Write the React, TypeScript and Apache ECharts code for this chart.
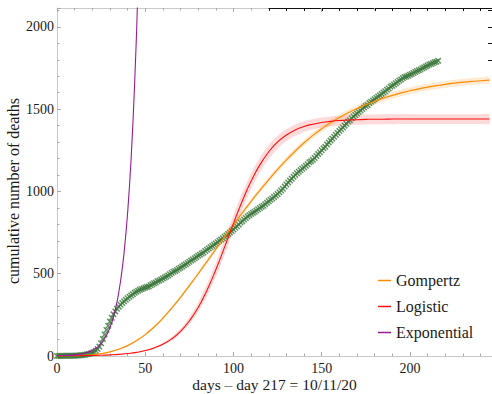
import { useEffect, useRef } from "react";
import * as echarts from "echarts";

// Cumulative deaths, one value per day starting at day 217 (10/11/20)
const deaths = [
  0, 0, 0, 1, 1, 1, 1, 2, 2, 2,
  2, 3, 3, 4, 5, 6, 8, 10, 12, 15,
  19, 25, 32, 42, 57, 78, 104, 131, 158, 184,
  209, 232, 253, 271, 287, 300, 311, 322, 332, 342,
  351, 360, 368, 376, 384, 391, 397, 402, 407, 411,
  416, 420, 423, 430, 436, 442, 447, 455, 459, 465,
  471, 477, 483, 490, 497, 504, 512, 517, 523, 530,
  537, 544, 551, 558, 565, 573, 580, 587, 594, 601,
  609, 616, 623, 629, 638, 646, 653, 661, 669, 676,
  684, 692, 700, 708, 716, 725, 733, 742, 751, 760,
  769, 779, 789, 799, 811, 819, 829, 839, 848, 856,
  863, 870, 877, 884, 892, 899, 907, 913, 923, 932,
  940, 949, 957, 966, 975, 985, 995, 1006, 1016, 1030,
  1042, 1054, 1066, 1078, 1089, 1100, 1111, 1120, 1129, 1138,
  1147, 1156, 1165, 1177, 1183, 1192, 1203, 1215, 1227, 1238,
  1250, 1262, 1271, 1286, 1298, 1309, 1321, 1333, 1345, 1356,
  1367, 1378, 1389, 1400, 1411, 1425, 1433, 1445, 1456, 1465,
  1474, 1483, 1492, 1501, 1510, 1519, 1526, 1537, 1545, 1553,
  1561, 1569, 1577, 1585, 1593, 1601, 1609, 1618, 1626, 1637,
  1642, 1650, 1658, 1666, 1674, 1681, 1689, 1696, 1699, 1704,
  1709, 1714, 1720, 1726, 1732, 1737, 1741, 1749, 1754, 1760,
  1765, 1772, 1775, 1780, 1785, 1789, 1794,
];

// Fitted model curves, sampled every 5 days
const fitDays = [
  0, 5, 10, 15, 20, 25, 30, 35, 40, 45,
  50, 55, 60, 65, 70, 75, 80, 85, 90, 95,
  100, 105, 110, 115, 120, 125, 130, 135, 140, 145,
  150, 155, 160, 165, 170, 175, 180, 185, 190, 195,
  200, 205, 210, 215, 220, 225, 230, 235, 240, 245,
];

const gompertz = [
  0.2, 0.7, 1.6, 3.7, 7.6, 14, 25, 41, 63, 93,
  130, 176, 230, 291, 357, 428, 500, 574, 650, 725,
  798, 870, 940, 1007, 1072, 1134, 1192, 1246, 1296, 1341,
  1381, 1417, 1449, 1478, 1504, 1527, 1548, 1567, 1584, 1599,
  1612, 1624, 1634, 1643, 1651, 1658, 1664, 1669, 1673, 1677,
];

// half-width of the Gompertz confidence band
const gompertzSpread = [
  0, 0, 0.3, 0.7, 1.2, 2, 3, 4, 5, 6,
  7, 8, 9, 10, 11, 12, 13, 14, 14, 15,
  15, 16, 16, 17, 17, 17, 18, 18, 18, 19,
  19, 19, 19, 20, 20, 20, 20, 20, 21, 21,
  21, 21, 21, 21, 21, 21, 21, 21, 21, 21,
];

const logistic = [
  0.6, 0.9, 1.4, 2.1, 3.1, 4.6, 6.9, 10, 15, 22,
  33, 49, 72, 104, 150, 213, 295, 400, 524, 663,
  806, 942, 1063, 1163, 1241, 1301, 1343, 1374, 1395, 1409,
  1419, 1426, 1431, 1434, 1436, 1438, 1439, 1439, 1440, 1440,
  1440, 1440, 1440, 1440, 1440, 1440, 1440, 1440, 1440, 1440,
];

const logisticUpper = [
  0.8, 1.1, 1.6, 2.4, 3.6, 5.3, 7.9, 11.6, 17, 25,
  38, 55, 81, 117, 167, 236, 325, 437, 567, 710,
  857, 993, 1111, 1208, 1283, 1338, 1379, 1407, 1426, 1440,
  1449, 1456, 1460, 1463, 1465, 1467, 1468, 1469, 1469, 1470,
  1470, 1470, 1470, 1470, 1470, 1470, 1470, 1470, 1470, 1470,
];

const logisticLower = [
  0.5, 0.8, 1.2, 1.8, 2.7, 4.1, 6.0, 9.0, 13.4, 20,
  29, 43, 64, 93, 134, 191, 267, 364, 482, 616,
  756, 892, 1015, 1117, 1198, 1260, 1306, 1339, 1362, 1378,
  1388, 1395, 1400, 1403, 1405, 1407, 1408, 1409, 1409, 1410,
  1410, 1410, 1410, 1410, 1410, 1410, 1410, 1410, 1410, 1410,
];

const expDays = [0, 5, 10, 15, 20, 22, 24, 26, 28, 30, 32, 34, 36, 38, 40, 42, 44, 46, 48];
const exponential = [1.3, 3.0, 6.7, 15, 34, 47, 65, 90, 124, 172, 237, 328, 454, 627, 867, 1199, 1657, 2291, 3168];

const xTickValues = [0, 50, 100, 150, 200];
const yTickValues = [0, 500, 1000, 1500, 2000];

const X_MAX = 246.5;
const Y_MAX = 2115;

const FONT = "'Liberation Serif', 'DejaVu Serif', serif";
const ORANGE = "#ff8c00";
const RED = "#ff1010";
const PURPLE = "#931e93";
const GREEN = "#3b773b";
const FRAME = "#c9c9c9";
const TICK = "#a8a8a8";

const CROSS =
  "path://M0,1.6 L1.6,0 L5,3.4 L8.4,0 L10,1.6 L6.6,5 L10,8.4 L8.4,10 L5,6.6 L1.6,10 L0,8.4 L3.4,5 Z";

// Filled confidence band between a lower and an upper curve, drawn in data coordinates
function bandSeries(name: string, xs: number[], lower: number[], upper: number[], fill: string) {
  return {
    name,
    type: "custom",
    silent: true,
    clip: true,
    xAxisIndex: 0,
    yAxisIndex: 0,
    data: xs.map((x, i) => [x, lower[i], upper[i]]),
    renderItem: (params: any, api: any) => {
      if (params.dataIndex !== 0) return null;
      const top = xs.map((x, i) => api.coord([x, upper[i]]));
      const bottom = xs.map((x, i) => api.coord([x, lower[i]])).reverse();
      return {
        type: "polygon",
        shape: { points: top.concat(bottom), smooth: 0.2 },
        style: { fill, stroke: "none" },
      };
    },
  };
}

export default function App() {
  const ref = useRef<HTMLDivElement>(null);

  useEffect(() => {
    if (!ref.current) return;
    const chart = echarts.init(ref.current, undefined, { renderer: "svg" });

    const pairs = (xs: number[], ys: number[]) => xs.map((x, i) => [x, ys[i]]);
    const gompertzLower = gompertz.map((v, i) => v - gompertzSpread[i]);
    const gompertzUpper = gompertz.map((v, i) => v + gompertzSpread[i]);

    chart.setOption({
      animation: false,
      grid: [
        { left: 57, right: 0, top: 8, bottom: 38, outerBoundsMode: "none", containLabel: false },
        { left: 269, right: 0, top: 8, height: 51.8, outerBoundsMode: "none", containLabel: false },
      ],
      legend: {
        data: ["Gompertz", "Logistic", "Exponential"],
        orient: "vertical",
        left: 378,
        top: 272,
        padding: 0,
        icon: "rect",
        itemWidth: 13,
        itemHeight: 1.5,
        itemGap: 9,
        selectedMode: false,
        textStyle: { fontFamily: FONT, fontSize: 16, color: "#1a1a1a", lineHeight: 17 },
      },
      xAxis: [
        {
          type: "value",
          gridIndex: 0,
          position: "bottom",
          min: 0,
          max: X_MAX,
          interval: 50,
          axisLine: { lineStyle: { color: FRAME, width: 1 } },
          axisTick: { inside: true, length: 4, lineStyle: { color: TICK } },
          minorTick: { show: true, splitNumber: 5, length: 2.5, lineStyle: { color: TICK } },
          splitLine: { show: false },
          axisLabel: {
            color: "#1a1a1a",
            fontFamily: FONT,
            fontSize: 14,
            margin: 5,
            showMaxLabel: false,
            formatter: (v: number) => (xTickValues.includes(v) ? String(v) : ""),
          },
          name: "days – day 217 = 10/11/20",
          nameLocation: "middle",
          nameGap: 20,
          nameMoveOverlap: false,
          nameTextStyle: { fontFamily: FONT, fontSize: 15.5, color: "#1a1a1a" },
        },
        {
          type: "value",
          gridIndex: 0,
          position: "top",
          min: 0,
          max: X_MAX,
          interval: 50,
          axisLine: { lineStyle: { color: FRAME, width: 1 } },
          axisTick: { inside: true, length: 4, lineStyle: { color: TICK } },
          minorTick: { show: true, splitNumber: 5, length: 2.5, lineStyle: { color: TICK } },
          splitLine: { show: false },
          axisLabel: { show: false },
        },
        {
          type: "value",
          gridIndex: 1,
          position: "top",
          min: 120,
          max: X_MAX,
          interval: 10,
          axisLine: { lineStyle: { color: "#111", width: 1 } },
          axisTick: { inside: true, length: 3, lineStyle: { color: "#111" } },
          splitLine: { show: false },
          axisLabel: { show: false },
        },
      ],
      yAxis: [
        {
          type: "value",
          gridIndex: 0,
          min: 0,
          max: Y_MAX,
          interval: 500,
          axisLine: { show: true, lineStyle: { color: FRAME, width: 1 } },
          axisTick: { show: true, inside: true, length: 4, lineStyle: { color: TICK } },
          minorTick: { show: true, splitNumber: 5, length: 2.5, lineStyle: { color: TICK } },
          splitLine: { show: false },
          axisLabel: {
            color: "#1a1a1a",
            fontFamily: FONT,
            fontSize: 14,
            margin: 3,
            showMaxLabel: false,
            formatter: (v: number) => (yTickValues.includes(v) ? String(v) : ""),
          },
          name: "cumulative number of deaths",
          nameLocation: "middle",
          nameGap: 36,
          nameMoveOverlap: false,
          nameTextStyle: { fontFamily: FONT, fontSize: 16, color: "#1a1a1a", padding: [0, 18, 0, 0] },
        },
        {
          type: "value",
          gridIndex: 1,
          position: "right",
          min: 1800,
          max: Y_MAX,
          interval: 100,
          axisLine: { show: false },
          axisTick: { show: true, inside: true, length: 4, lineStyle: { color: "#111" } },
          splitLine: { show: false },
          axisLabel: { show: false },
        },
      ],
      series: [
        bandSeries("logisticBand", fitDays, logisticLower, logisticUpper, "rgba(255, 70, 70, 0.2)"),
        bandSeries("gompertzBand", fitDays, gompertzLower, gompertzUpper, "rgba(255, 150, 40, 0.2)"),
        {
          name: "Gompertz",
          type: "line",
          smooth: true,
          symbol: "none",
          itemStyle: { color: ORANGE },
          lineStyle: { color: ORANGE, width: 1.2 },
          data: pairs(fitDays, gompertz),
        },
        {
          name: "Logistic",
          type: "line",
          smooth: true,
          symbol: "none",
          itemStyle: { color: RED },
          lineStyle: { color: RED, width: 1.1 },
          data: pairs(fitDays, logistic),
        },
        {
          name: "Exponential",
          type: "line",
          smooth: true,
          symbol: "none",
          clip: true,
          itemStyle: { color: PURPLE },
          lineStyle: { color: PURPLE, width: 1.1 },
          data: pairs(expDays, exponential),
        },
        {
          name: "deaths",
          type: "scatter",
          symbol: CROSS,
          symbolSize: 6.5,
          itemStyle: { color: GREEN },
          data: deaths.map((v, day) => [day, v]),
        },
      ],
    });

    return () => chart.dispose();
  }, []);

  return (
    <div
      ref={ref}
      style={{ position: "fixed", left: 0, top: 0, width: 492, height: 394, background: "#fff" }}
    />
  );
}
